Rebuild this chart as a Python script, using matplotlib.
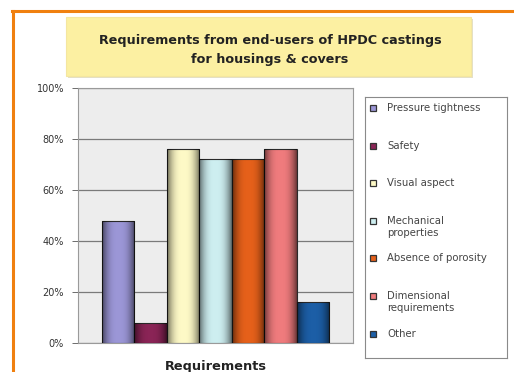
import matplotlib.pyplot as plt
import matplotlib.patches as mpatches
from matplotlib.lines import Line2D
import numpy as np

plt.rcParams['font.family'] = ['DejaVu Sans']

categories = ["Pressure tightness", "Safety", "Visual aspect",
              "Mechanical\nproperties", "Absence of porosity",
              "Dimensional\nrequirements", "Other"]
shares = [48, 8, 76, 72, 72, 76, 16]
colors = ["#9b96d6", "#8a2456", "#fdf9c6", "#cdeef0", "#e5601a", "#ef7b7d", "#1c5ea6"]
yticks = [0, 20, 40, 60, 80, 100]

W, H = 514, 372
fig = plt.figure(figsize=(W / 100, H / 100), dpi=100)
fig.patch.set_facecolor("white")


def box(x0, y0, x1, y1):
    # pixel box (top-left origin) -> figure fraction rect
    return [x0 / W, 1 - y1 / H, (x1 - x0) / W, (y1 - y0) / H]


# orange frame along the top and left edges
fig.add_artist(Line2D([12 / W, 1], [1 - 11 / H] * 2, color="#f0800f", lw=2.2))
fig.add_artist(Line2D([13 / W] * 2, [0, 1 - 11 / H], color="#f0800f", lw=2.2))

# title panel
tb = box(66, 17, 471, 76)
fig.add_artist(mpatches.Rectangle((tb[0] + 2 / W, tb[1] - 2 / H), tb[2], tb[3],
                                  transform=fig.transFigure, facecolor="#e4e0c8",
                                  edgecolor="none"))
fig.add_artist(mpatches.Rectangle((tb[0], tb[1]), tb[2], tb[3],
                                  transform=fig.transFigure, facecolor="#fcf0a2",
                                  edgecolor="#f4e6a0", lw=0.8))
fig.text(270 / W, 1 - 50 / H,
         "Requirements from end-users of HPDC castings\nfor housings & covers",
         ha="center", va="center", fontsize=9.2, fontweight="bold",
         color="#222222", linespacing=1.55)

# bar chart
ax = fig.add_axes(box(78, 88, 353, 343))
ax.set_facecolor("#ededed")
x = np.arange(len(shares))
bars = ax.bar(x, shares, width=1.0, color=colors, edgecolor="#2a2a2a", linewidth=0.8,
              zorder=3)

# soft cylinder-like shading on each bar
grad = np.linspace(0, 1, 64)
shade = 0.55 * (1 - np.sin(grad * np.pi)) ** 1.5
for b in bars:
    x0, w, h = b.get_x(), b.get_width(), b.get_height()
    img = np.zeros((1, 64, 4))
    img[..., 3] = shade
    im = ax.imshow(img, extent=(x0, x0 + w, 0, h), aspect="auto", zorder=3.5,
                   interpolation="bilinear")
    im.set_clip_path(b)

ax.set_xlim(-1.24, len(shares) - 0.5 + 0.74)
ax.set_ylim(0, 100)
ax.set_yticks(yticks)
ax.set_yticklabels([f"{t}%" for t in yticks], fontsize=7, color="#333333")
ax.set_xticks([])
ax.grid(axis="y", color="#7a7a7a", lw=0.9, zorder=1)
ax.tick_params(axis="y", length=4, width=0.6, color="#555555", pad=6)
for s in ax.spines.values():
    s.set_color("#9a9a9a")
    s.set_linewidth(0.8)
ax.set_xlabel("Requirements", fontsize=9.3, fontweight="bold", color="#222222",
              labelpad=12)

# legend panel
lax = fig.add_axes(box(365, 97, 507, 358))
lax.set_xlim(0, 142)
lax.set_ylim(261, 0)
lax.set_xticks([])
lax.set_yticks([])
for s in lax.spines.values():
    s.set_color("#8a8a8a")
    s.set_linewidth(0.8)
for i, (lab, c) in enumerate(zip(categories, colors)):
    yy = 11 + i * 37.6
    lax.add_patch(mpatches.Rectangle((5, yy - 3), 6, 6, facecolor=c,
                                     edgecolor="#333333", lw=0.9))
    lax.text(22, yy - 5, lab, fontsize=7.3, color="#444444", va="top", ha="left",
             linespacing=1.3)

fig.savefig("out.png", dpi=100)
